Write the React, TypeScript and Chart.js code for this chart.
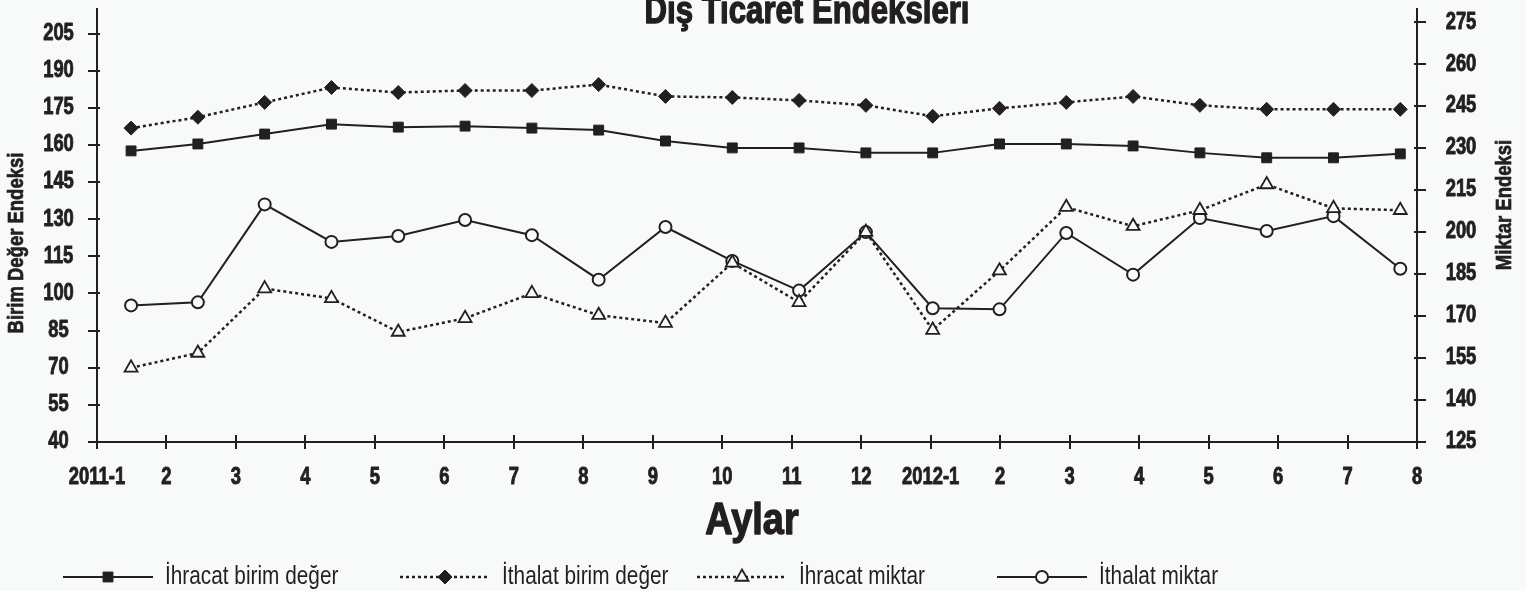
import { useEffect, useRef } from 'react';
import { Chart, registerables } from 'chart.js';
import { drawPoint } from 'chart.js/helpers';

Chart.register(...registerables);

const titleText = 'Dış Ticaret Endeksleri';
const leftAxisTitle = 'Birim Değer Endeksi';
const rightAxisTitle = 'Miktar Endeksi';
const xAxisTitle = 'Aylar';

const months = ['2011-1', '2', '3', '4', '5', '6', '7', '8', '9', '10', '11', '12', '2012-1', '2', '3', '4', '5', '6', '7', '8'];
const leftTicks = [40, 55, 70, 85, 100, 115, 130, 145, 160, 175, 190, 205];
const rightTicks = [125, 140, 155, 170, 185, 200, 215, 230, 245, 260, 275];

const ihracatBirimDeger = [157.6, 160.4, 164.4, 168.4, 167.2, 167.6, 166.8, 166.0, 161.6, 158.8, 158.8, 156.8, 156.8, 160.4, 160.4, 159.6, 156.8, 154.8, 154.8, 156.4];
const ithalatBirimDeger = [166.8, 171.2, 177.2, 183.2, 181.2, 182.0, 182.0, 184.4, 179.6, 179.2, 178.0, 176.0, 171.6, 174.8, 177.2, 179.6, 176.0, 174.4, 174.4, 174.4];
const ihracatMiktar = [151.5, 156.8, 179.8, 176.3, 164.3, 169.2, 178.1, 170.3, 167.5, 189.0, 174.9, 200.0, 165.0, 186.2, 208.9, 202.1, 207.8, 217.0, 208.5, 207.8];
const ithalatMiktar = [173.8, 174.9, 209.9, 196.5, 198.6, 204.3, 198.9, 183.0, 201.8, 189.7, 179.1, 200.0, 172.8, 172.4, 199.7, 184.8, 205.0, 200.4, 205.7, 186.9];

const INK = '#231f20';
const BG = '#f8fafa';
const FONT = "'Liberation Sans', Arial, sans-serif";

const toPoints = (arr: number[]) => arr.map((v, i) => ({ x: i, y: v }));

// condensed text: horizontal squeeze sx, optional rotation, optional outline to thicken
function ctext(ctx: any, text: string, x: number, y: number, font: string, sx: number, align: string, baseline: string, rot = 0, thick = 0) {
  ctx.save();
  ctx.translate(x, y);
  if (rot) ctx.rotate(rot);
  ctx.scale(sx, 1);
  ctx.font = font;
  ctx.textAlign = align;
  ctx.textBaseline = baseline;
  ctx.fillStyle = INK;
  ctx.fillText(text, 0, 0);
  if (thick > 0) {
    ctx.strokeStyle = INK;
    ctx.lineWidth = thick;
    ctx.lineJoin = 'round';
    ctx.strokeText(text, 0, 0);
  }
  ctx.restore();
}

const TICK_FONT = `bold 23px ${FONT}`;
const TICK_SX = 0.8;
const TICK_THICK = 0.9;

const decor = {
  id: 'decor',
  beforeDatasetsDraw(chart: any) {
    const { ctx, chartArea: a, scales } = chart;
    ctx.save();
    ctx.strokeStyle = INK;
    ctx.lineWidth = 2;
    ctx.beginPath();
    scales.y.ticks.forEach((t: any) => {
      const p = Math.round(scales.y.getPixelForValue(t.value));
      ctx.moveTo(a.left - 9, p);
      ctx.lineTo(a.left + 3, p);
    });
    scales.y2.ticks.forEach((t: any) => {
      const p = Math.round(scales.y2.getPixelForValue(t.value));
      ctx.moveTo(a.right - 3, p);
      ctx.lineTo(a.right + 9, p);
    });
    scales.xt.ticks.forEach((t: any) => {
      const p = Math.round(scales.xt.getPixelForValue(t.value));
      ctx.moveTo(p, a.bottom - 7);
      ctx.lineTo(p, a.bottom + 7);
    });
    ctx.stroke();
    ctx.restore();
  },
  afterDraw(chart: any) {
    const { ctx, chartArea: a, scales } = chart;
    ctx.save();
    // tick labels
    scales.y.ticks.forEach((t: any) => {
      ctext(ctx, String(t.value), a.left - 38.5, scales.y.getPixelForValue(t.value), TICK_FONT, TICK_SX, 'center', 'middle', 0, TICK_THICK);
    });
    scales.y2.ticks.forEach((t: any) => {
      ctext(ctx, String(t.value), a.right + 44, scales.y2.getPixelForValue(t.value), TICK_FONT, TICK_SX, 'center', 'middle', 0, TICK_THICK);
    });
    scales.xt.ticks.forEach((t: any, i: number) => {
      ctext(ctx, months[i], scales.xt.getPixelForValue(t.value), a.bottom + 36, TICK_FONT, TICK_SX, 'center', 'middle', 0, TICK_THICK);
    });
    // title
    ctext(ctx, titleText, (a.left + a.right) / 2 + 50, 23, `bold 38px ${FONT}`, 0.82, 'center', 'alphabetic', 0, 1.4);
    // x title
    ctext(ctx, xAxisTitle, (a.left + a.right) / 2 - 5, 534, `bold 44px ${FONT}`, 0.86, 'center', 'alphabetic', 0, 1.4);
    // y titles
    ctext(ctx, leftAxisTitle, 17, 243, `bold 22px ${FONT}`, 0.84, 'center', 'middle', -Math.PI / 2, 0.7);
    ctext(ctx, rightAxisTitle, 1505, 205, `bold 22px ${FONT}`, 0.84, 'center', 'middle', -Math.PI / 2, 0.7);
    // legend
    const starts = [63, 400, 697, 997];
    const ly = 577;
    chart.data.datasets.forEach((ds: any, i: number) => {
      const x0 = starts[i];
      const x1 = x0 + 90;
      ctx.strokeStyle = INK;
      ctx.lineWidth = ds.borderWidth;
      ctx.setLineDash(ds.borderDash || []);
      ctx.beginPath();
      ctx.moveTo(x0, ly);
      ctx.lineTo(x1, ly);
      ctx.stroke();
      ctx.setLineDash([]);
      ctx.fillStyle = ds.pointBackgroundColor;
      ctx.strokeStyle = ds.pointBorderColor;
      ctx.lineWidth = ds.pointBorderWidth;
      drawPoint(ctx, { pointStyle: ds.pointStyle, radius: ds.pointRadius, borderWidth: ds.pointBorderWidth, rotation: 0 } as any, (x0 + x1) / 2, ly);
      ctext(ctx, ds.label, x1 + 12, ly, `26px ${FONT}`, 0.8, 'left', 'middle');
    });
    ctx.restore();
  },
};

export default function App() {
  const ref = useRef<HTMLCanvasElement>(null);
  useEffect(() => {
    const canvas = ref.current!;
    const chart = new Chart(canvas, {
      type: 'line',
      data: {
        datasets: [
          {
            label: 'İhracat birim değer',
            data: toPoints(ihracatBirimDeger),
            xAxisID: 'x',
            yAxisID: 'y',
            borderColor: INK,
            borderWidth: 2,
            pointStyle: 'rect',
            pointRadius: 7,
            pointBackgroundColor: INK,
            pointBorderColor: INK,
            pointBorderWidth: 1,
          },
          {
            label: 'İthalat birim değer',
            data: toPoints(ithalatBirimDeger),
            xAxisID: 'x',
            yAxisID: 'y',
            borderColor: INK,
            borderWidth: 2.5,
            borderDash: [3, 3],
            pointStyle: 'rectRot',
            pointRadius: 7,
            pointBackgroundColor: INK,
            pointBorderColor: INK,
            pointBorderWidth: 1,
          },
          {
            label: 'İhracat miktar',
            data: toPoints(ihracatMiktar),
            xAxisID: 'x',
            yAxisID: 'y2',
            borderColor: INK,
            borderWidth: 2.5,
            borderDash: [3, 3],
            pointStyle: 'triangle',
            pointRadius: 7.5,
            pointBackgroundColor: BG,
            pointBorderColor: INK,
            pointBorderWidth: 1.8,
          },
          {
            label: 'İthalat miktar',
            data: toPoints(ithalatMiktar),
            xAxisID: 'x',
            yAxisID: 'y2',
            borderColor: INK,
            borderWidth: 2,
            pointStyle: 'circle',
            pointRadius: 6,
            pointBackgroundColor: BG,
            pointBorderColor: INK,
            pointBorderWidth: 2,
          },
        ],
      },
      options: {
        responsive: false,
        animation: false,
        devicePixelRatio: 1,
        layout: { padding: { top: 3, left: 0, right: 0, bottom: 0 } },
        plugins: {
          legend: { display: false },
          title: { display: false },
          tooltip: { enabled: false },
        },
        scales: {
          x: { type: 'linear', min: -0.51, max: 19.25, display: false },
          xt: {
            type: 'linear',
            position: 'bottom',
            min: 0,
            max: months.length - 1,
            afterBuildTicks: (s: any) => {
              s.ticks = months.map((_, i) => ({ value: i }));
            },
            afterFit: (s: any) => {
              s.height = 149;
              s.paddingLeft = 0;
              s.paddingRight = 0;
            },
            ticks: { display: false },
            grid: { display: false, drawTicks: false },
            border: { display: true, color: INK, width: 2 },
          },
          y: {
            type: 'linear',
            position: 'left',
            min: 40,
            max: 214.8,
            afterBuildTicks: (s: any) => {
              s.ticks = leftTicks.map((v) => ({ value: v }));
            },
            afterFit: (s: any) => {
              s.width = 97;
              s.paddingTop = 0;
              s.paddingBottom = 0;
            },
            ticks: { display: false },
            grid: { display: false, drawTicks: false },
            border: { display: true, color: INK, width: 2 },
          },
          y2: {
            type: 'linear',
            position: 'right',
            min: 125,
            max: 279.6,
            afterBuildTicks: (s: any) => {
              s.ticks = rightTicks.map((v) => ({ value: v }));
            },
            afterFit: (s: any) => {
              s.width = 109;
              s.paddingTop = 0;
              s.paddingBottom = 0;
            },
            ticks: { display: false },
            grid: { display: false, drawTicks: false },
            border: { display: true, color: INK, width: 2 },
          },
        },
      } as any,
      plugins: [decor],
    });
    return () => chart.destroy();
  }, []);
  return (
    <div style={{ position: 'absolute', left: 0, top: 0, width: 1526, height: 591, background: BG, overflow: 'hidden' }}>
      <canvas ref={ref} width={1526} height={591} style={{ display: 'block' }} />
    </div>
  );
}
